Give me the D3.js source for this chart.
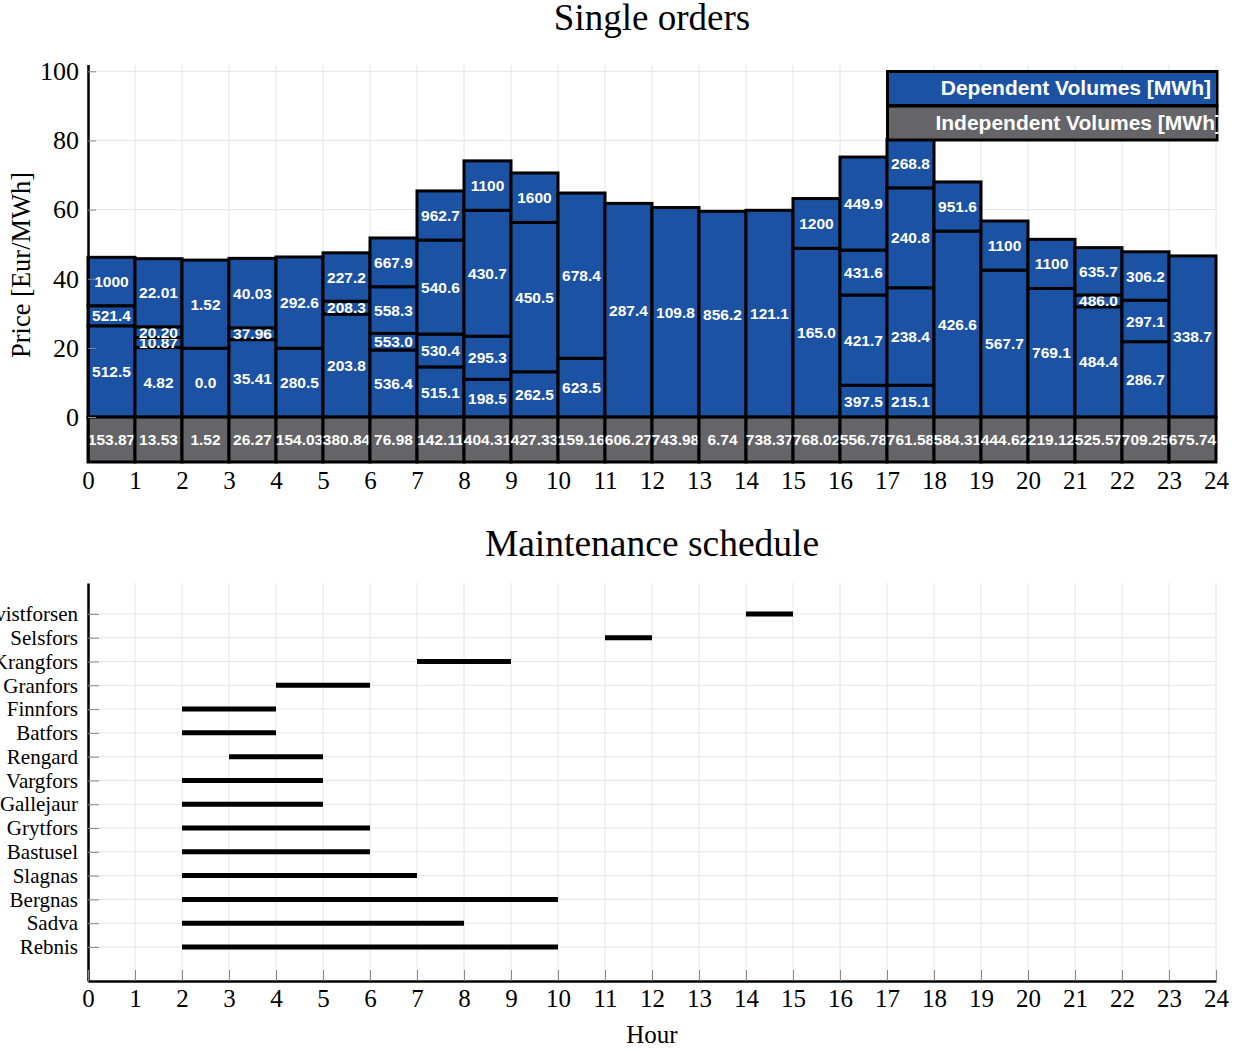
<!DOCTYPE html>
<meta charset="utf-8">

<style type="text/css">
body {
  margin: 0;
  background: #fff;
}

.grid line {
  stroke: #e4e4e4;
  stroke-width: 1;
}

.serif {
  font-family: "Liberation Serif", "Times New Roman", serif;
  fill: #000;
}

.lbl {
  font-family: "Liberation Sans", Arial, Helvetica, sans-serif;
  font-weight: bold;
  font-size: 15.5px;
  fill: #fff;
}
</style>

<body>
  <svg id="svg" width="1242" height="1051"></svg>
</body>

<script src="https://cdn.jsdelivr.net/npm/d3@7/dist/d3.min.js"></script>

<script>
  // ---- data: single orders ----
  const hours = [0, 1, 2, 3, 4, 5, 6, 7, 8, 9, 10, 11, 12, 13, 14, 15, 16, 17, 18, 19, 20, 21, 22, 23];
  const hourTicks = [0, 1, 2, 3, 4, 5, 6, 7, 8, 9, 10, 11, 12, 13, 14, 15, 16, 17, 18, 19, 20, 21, 22, 23, 24];
  const priceTicks = [0, 20, 40, 60, 80, 100];

  // upper price of each stacked block, bottom to top [Eur/MWh]
  const stepPrices = [
    [26.4, 32.2, 46.2],
    [20.1, 23.0, 26.1, 45.8],
    [19.9, 45.4],
    [22.4, 25.8, 45.9],
    [19.9, 46.3],
    [29.8, 33.5, 47.5],
    [19.4, 24.2, 37.7, 51.8],
    [14.5, 24.0, 51.2, 65.4],
    [10.9, 23.4, 59.8, 74.1],
    [13.1, 56.3, 70.6],
    [17.0, 64.8],
    [61.8],
    [60.6],
    [59.5],
    [59.8],
    [48.8, 63.2],
    [9.2, 35.3, 48.3, 75.2],
    [9.2, 37.4, 66.3, 80.3],
    [53.8, 68.0],
    [42.5, 56.7],
    [37.2, 51.4],
    [31.9, 35.3, 49.0],
    [21.8, 33.8, 47.8],
    [46.6]
  ];

  // dependent volume in each block [MWh]
  const depVolumes = [
    ["512.5", "521.4", "1000"],
    ["4.82", "10.87", "20.20", "22.01"],
    ["0.0", "1.52"],
    ["35.41", "37.96", "40.03"],
    ["280.5", "292.6"],
    ["203.8", "208.3", "227.2"],
    ["536.4", "553.0", "558.3", "667.9"],
    ["515.1", "530.4", "540.6", "962.7"],
    ["198.5", "295.3", "430.7", "1100"],
    ["262.5", "450.5", "1600"],
    ["623.5", "678.4"],
    ["287.4"],
    ["109.8"],
    ["856.2"],
    ["121.1"],
    ["165.0", "1200"],
    ["397.5", "421.7", "431.6", "449.9"],
    ["215.1", "238.4", "240.8", "268.8"],
    ["426.6", "951.6"],
    ["567.7", "1100"],
    ["769.1", "1100"],
    ["484.4", "486.0", "635.7"],
    ["286.7", "297.1", "306.2"],
    ["338.7"]
  ];

  // independent volume per hour [MWh]
  const indepVolumes = ["153.87", "13.53", "1.52", "26.27", "154.03", "380.84", "76.98", "142.11",
    "404.31", "427.33", "159.16", "606.27", "743.98", "6.74", "738.37", "768.02", "556.78",
    "761.58", "584.31", "444.62", "219.12", "525.57", "709.25", "675.74"];

  // ---- data: maintenance schedule (bottom row first) ----
  const plants = ["Rebnis", "Sadva", "Bergnas", "Slagnas", "Bastusel", "Grytfors", "Gallejaur",
    "Vargfors", "Rengard", "Batfors", "Finnfors", "Granfors", "Krangfors", "Selsfors", "Kvistforsen"];
  const maintStart = [2, 2, 2, 2, 2, 2, 2, 2, 3, 2, 2, 4, 7, 11, 14];
  const maintEnd = [10, 8, 10, 7, 6, 6, 5, 5, 5, 4, 4, 6, 9, 12, 15];

  const blue = "#1b52a3";
  const grey = "#646469";

  let svg = d3.select("#svg");

  // ================= top chart =================
  const x = d3.scaleLinear().domain([0, 24]).range([88, 1216]);
  const y = d3.scaleLinear().domain([-13, 102]).range([462, 64.4]);

  let gTop = svg.append("g");

  gTop.append("g").attr("class", "grid")
    .selectAll("line").data(hourTicks).join("line")
      .attr("x1", d => x(d)).attr("x2", d => x(d))
      .attr("y1", y(-13)).attr("y2", y(102));
  gTop.append("g").attr("class", "grid")
    .selectAll("line").data(priceTicks).join("line")
      .attr("x1", x(0)).attr("x2", x(24))
      .attr("y1", d => y(d)).attr("y2", d => y(d));

  // build blocks from the arrays
  let blocks = [];
  hours.forEach((h, i) => {
    let lo = 0;
    stepPrices[i].forEach((p, j) => {
      blocks.push({h: h, lo: lo, hi: p, v: depVolumes[i][j]});
      lo = p;
    });
  });

  let blk = gTop.append("g").selectAll("g").data(blocks).join("g");
  blk.append("rect")
      .attr("x", d => x(d.h))
      .attr("y", d => y(d.hi))
      .attr("width", d => x(d.h + 1) - x(d.h))
      .attr("height", d => y(d.lo) - y(d.hi))
      .attr("fill", blue)
      .attr("stroke", "#000")
      .attr("stroke-width", 3);
  blk.append("text")
      .attr("class", "lbl")
      .attr("text-anchor", "middle")
      .attr("x", d => x(d.h + 0.5))
      .attr("y", d => y((d.lo + d.hi) / 2))
      .attr("dy", "0.36em")
      .text(d => d.v);

  // independent volumes (grey strip below 0)
  let ind = gTop.append("g").selectAll("g").data(hours).join("g");
  ind.append("rect")
      .attr("x", d => x(d))
      .attr("y", y(0))
      .attr("width", d => x(d + 1) - x(d))
      .attr("height", y(-13) - y(0))
      .attr("fill", grey)
      .attr("stroke", "#000")
      .attr("stroke-width", 3);
  ind.append("text")
      .attr("class", "lbl")
      .attr("text-anchor", "middle")
      .attr("x", d => x(d + 0.5))
      .attr("y", y(-6.5))
      .attr("dy", "0.36em")
      .text((d, i) => indepVolumes[i]);

  // legend
  svg.append("clipPath").attr("id", "clipTop")
    .append("rect").attr("x", 0).attr("y", 0).attr("width", 1218.5).attr("height", 470);
  let legend = svg.append("g").attr("clip-path", "url(#clipTop)");
  const legItems = [
    {name: "Dependent Volumes [MWh]", fill: blue, top: 71.5, tx: 1211},
    {name: "Independent Volumes [MWh]", fill: grey, top: 106, tx: 1222}
  ];
  legend.selectAll("rect").data(legItems).join("rect")
      .attr("x", 887.5).attr("y", d => d.top)
      .attr("width", 330).attr("height", 34)
      .attr("fill", d => d.fill)
      .attr("stroke", "#000").attr("stroke-width", 3);
  legend.selectAll("text").data(legItems).join("text")
      .attr("class", "lbl")
      .style("font-size", "21px")
      .attr("text-anchor", "end")
      .attr("x", d => d.tx)
      .attr("y", d => d.top + 16)
      .attr("dy", "0.36em")
      .text(d => d.name);

  // axes
  gTop.append("g")
      .attr("transform", "translate(" + x(0) + ",0)")
      .call(d3.axisLeft(y).tickValues(priceTicks).tickSizeInner(-8).tickSizeOuter(0).tickPadding(9))
      .call(g => g.select(".domain").attr("stroke-width", 2.5))
      .call(g => g.selectAll(".tick line").attr("stroke", "#888"))
      .call(g => g.selectAll(".tick text").attr("class", "serif").attr("font-size", 26));
  gTop.append("g")
      .attr("transform", "translate(0," + y(-13) + ")")
      .call(d3.axisBottom(x).tickValues(hourTicks).tickSize(0).tickPadding(9).tickFormat(d3.format("d")))
      .call(g => g.select(".domain").remove())
      .call(g => g.selectAll(".tick text").attr("class", "serif").attr("font-size", 25));

  svg.append("text")
     .attr("class", "serif")
     .attr("font-size", 37)
     .attr("text-anchor", "middle")
     .attr("x", (x(0) + x(24)) / 2)
     .attr("y", 30)
     .text("Single orders");

  svg.append("text")
     .attr("class", "serif")
     .attr("font-size", 26.5)
     .attr("text-anchor", "middle")
     .attr("transform", "translate(30," + y(44) + ")rotate(-90)")
     .text("Price [Eur/MWh]");

  // ================= bottom chart =================
  const y2 = d3.scaleLinear().domain([-1.43, 15.3]).range([981, 583]);
  const rowIdx = plants.map((p, i) => i);

  let gBot = svg.append("g");

  gBot.append("g").attr("class", "grid")
    .selectAll("line").data(hourTicks).join("line")
      .attr("x1", d => x(d)).attr("x2", d => x(d))
      .attr("y1", y2(-1.43)).attr("y2", y2(15.3));
  gBot.append("g").attr("class", "grid")
    .selectAll("line").data(rowIdx).join("line")
      .attr("x1", x(0)).attr("x2", x(24))
      .attr("y1", d => y2(d)).attr("y2", d => y2(d));

  gBot.append("g").selectAll("line").data(rowIdx).join("line")
      .attr("x1", i => x(maintStart[i]))
      .attr("x2", i => x(maintEnd[i]))
      .attr("y1", i => y2(i))
      .attr("y2", i => y2(i))
      .attr("stroke", "#000")
      .attr("stroke-width", 5);

  gBot.append("g")
      .attr("transform", "translate(" + x(0) + ",0)")
      .call(d3.axisLeft(y2).tickValues(rowIdx).tickFormat(i => plants[i])
              .tickSizeInner(-11).tickSizeOuter(0).tickPadding(10))
      .call(g => g.select(".domain").attr("stroke-width", 2.5))
      .call(g => g.selectAll(".tick line").attr("stroke", "#888"))
      .call(g => g.selectAll(".tick text").attr("class", "serif").attr("font-size", 21));
  gBot.append("g")
      .attr("transform", "translate(0," + y2(-1.43) + ")")
      .call(d3.axisBottom(x).tickValues(hourTicks).tickFormat(d3.format("d"))
              .tickSizeInner(-11).tickSizeOuter(0).tickPadding(8))
      .call(g => g.select(".domain").attr("stroke-width", 2.5))
      .call(g => g.selectAll(".tick line").attr("stroke", "#888"))
      .call(g => g.selectAll(".tick text").attr("class", "serif").attr("font-size", 25));

  svg.append("text")
     .attr("class", "serif")
     .attr("font-size", 37.5)
     .attr("text-anchor", "middle")
     .attr("x", (x(0) + x(24)) / 2)
     .attr("y", 556)
     .text("Maintenance schedule");

  svg.append("text")
     .attr("class", "serif")
     .attr("font-size", 25)
     .attr("text-anchor", "middle")
     .attr("x", (x(0) + x(24)) / 2)
     .attr("y", 1043)
     .text("Hour");
</script>
